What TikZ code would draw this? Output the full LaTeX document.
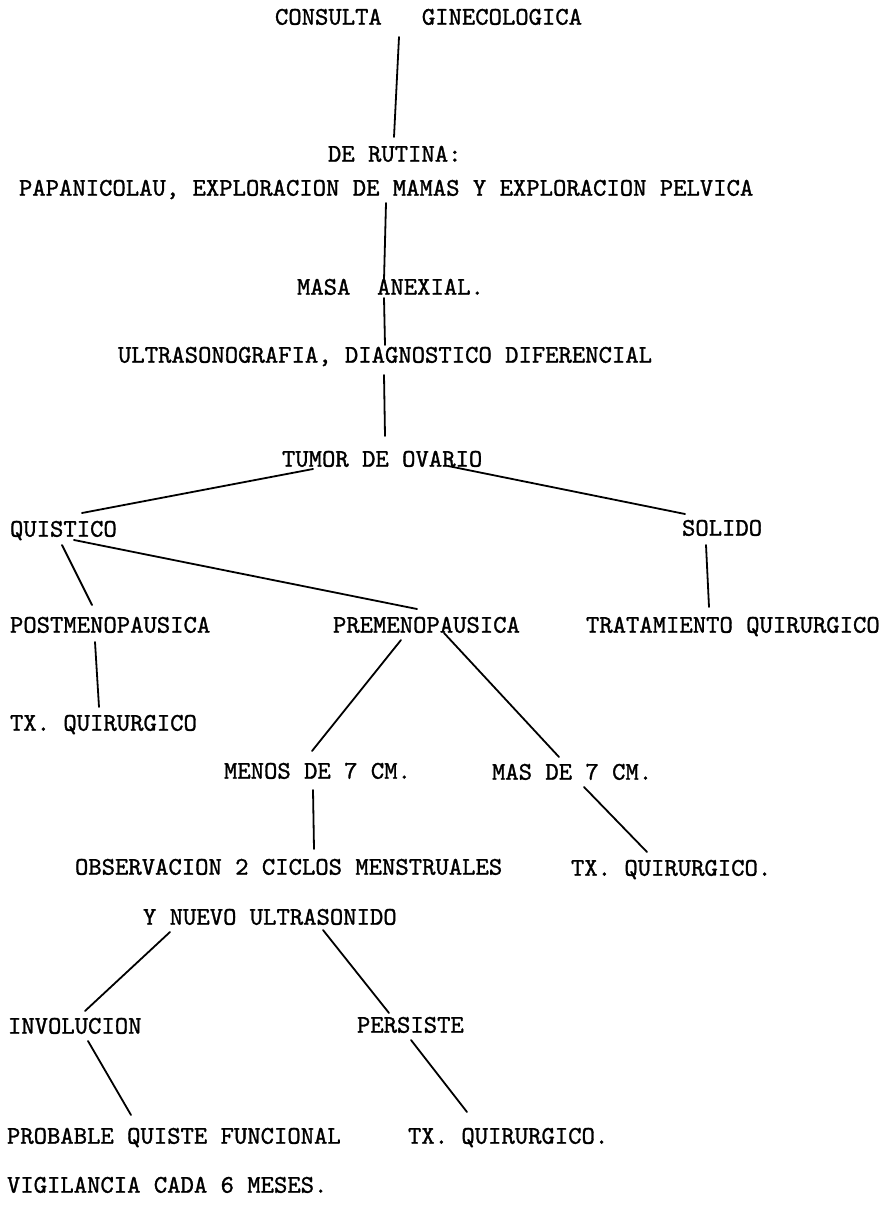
\documentclass[tikz,border=0pt]{standalone}
\usepackage{fontspec}
\newfontfamily\twfont{lmmono10-regular}[Extension=.otf,FakeBold=1.2]
\begin{document}
\begin{tikzpicture}[x=1pt,y=-1pt,
  lbl/.style={anchor=base west,inner sep=0pt,outer sep=0pt,text=black,
    font=\twfont\fontsize{25.43pt}{30pt}\selectfont},
  conn/.style={draw=black,line width=1.8pt,line cap=round}]
\useasboundingbox[fill=white] (0,0) rectangle (884,1206);
% texts (base y = centre + 7.7)
\node[lbl] (consulta) at (275,24.7) {CONSULTA\ \ \ GINECOLOGICA};
\node[lbl] (rutina) at (328,161.7) {DE RUTINA:};
\node[lbl] (papa) at (19,195.7) {PAPANICOLAU, EXPLORACION DE MAMAS Y EXPLORACION PELVICA};
\node[lbl] (masa) at (297,294.7) {MASA\ \ ANEXIAL.};
\node[lbl] (ultra) at (118,362.7) {ULTRASONOGRAFIA, DIAGNOSTICO DIFERENCIAL};
\node[lbl] (tumor) at (282,466.7) {TUMOR DE OVARIO};
\node[lbl] (quistico) at (10,536.7) {QUISTICO};
\node[lbl] (solido) at (682,535.7) {SOLIDO};
\node[lbl] (post) at (10,632.7) {POSTMENOPAUSICA};
\node[lbl] (pre) at (333,632.7) {PREMENOPAUSICA};
\node[lbl] (trat) at (586,632.7) {TRATAMIENTO QUIRURGICO};
\node[lbl] (txa) at (10,730.7) {TX. QUIRURGICO};
\node[lbl] (menos) at (224,778.7) {MENOS DE 7 CM.};
\node[lbl] (mas) at (492,779.7) {MAS DE 7 CM.};
\node[lbl] (obs) at (75,874.7) {OBSERVACION 2 CICLOS MENSTRUALES};
\node[lbl] (txb) at (571,875.7) {TX. QUIRURGICO.};
\node[lbl] (nuevo) at (143,924.7) {Y NUEVO ULTRASONIDO};
\node[lbl] (invol) at (8,1033.7) {INVOLUCION};
\node[lbl] (persiste) at (357,1032.7) {PERSISTE};
\node[lbl] (probable) at (7,1143.7) {PROBABLE QUISTE FUNCIONAL};
\node[lbl] (txc) at (408,1143.7) {TX. QUIRURGICO.};
\node[lbl] (vigil) at (7,1192.7) {VIGILANCIA CADA 6 MESES.};
% connector end points
\coordinate (a1) at (399,37);   \coordinate (a2) at (394,137);
\coordinate (b1) at (386,203);  \coordinate (b2) at (384,280);
\coordinate (c1) at (384,298);  \coordinate (c2) at (385,345);
\coordinate (d1) at (384,375);  \coordinate (d2) at (385,436);
\coordinate (e1) at (313,469);  \coordinate (e2) at (82,513);
\coordinate (f1) at (448,466);  \coordinate (f2) at (685,514);
\coordinate (g1) at (62,545);   \coordinate (g2) at (92,605);
\coordinate (h1) at (74,540);   \coordinate (h2) at (417,609);
\coordinate (i1) at (706,545);  \coordinate (i2) at (709,607);
\coordinate (j1) at (95,642);   \coordinate (j2) at (99,707);
\coordinate (k1) at (401,640);  \coordinate (k2) at (312,751);
\coordinate (l1) at (444,633);  \coordinate (l2) at (559,757);
\coordinate (m1) at (313,790);  \coordinate (m2) at (314,849);
\coordinate (n1) at (584,787);  \coordinate (n2) at (647,852);
\coordinate (o1) at (170,932);  \coordinate (o2) at (85,1011);
\coordinate (p1) at (323,930);  \coordinate (p2) at (389,1013);
\coordinate (q1) at (88,1041);  \coordinate (q2) at (131,1115);
\coordinate (r1) at (411,1040); \coordinate (r2) at (467,1112);
% connectors
\draw[conn] (a1) -- (a2);
\draw[conn] (b1) -- (b2);
\draw[conn] (c1) -- (c2);
\draw[conn] (d1) -- (d2);
\draw[conn] (e1) -- (e2);
\draw[conn] (f1) -- (f2);
\draw[conn] (g1) -- (g2);
\draw[conn] (h1) -- (h2);
\draw[conn] (i1) -- (i2);
\draw[conn] (j1) -- (j2);
\draw[conn] (k1) -- (k2);
\draw[conn] (l1) -- (l2);
\draw[conn] (m1) -- (m2);
\draw[conn] (n1) -- (n2);
\draw[conn] (o1) -- (o2);
\draw[conn] (p1) -- (p2);
\draw[conn] (q1) -- (q2);
\draw[conn] (r1) -- (r2);
\end{tikzpicture}
\end{document}
